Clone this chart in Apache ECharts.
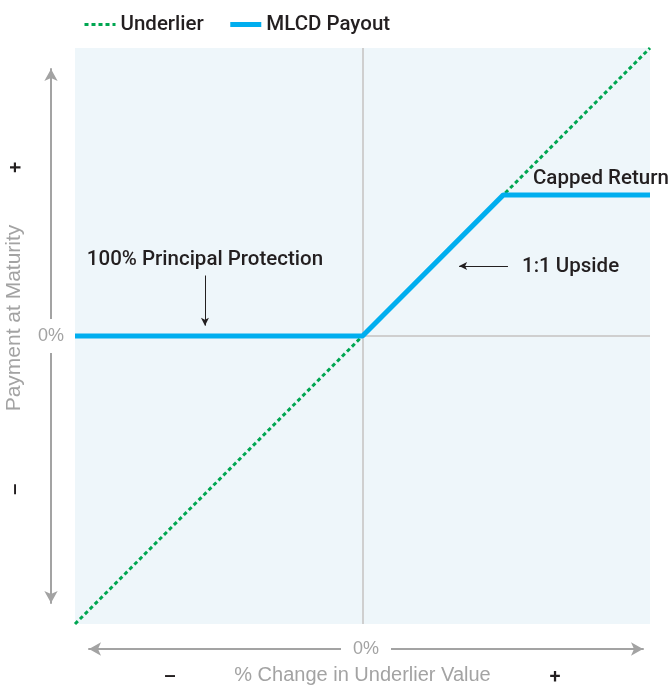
<!DOCTYPE html>
<html>
<head>
<meta charset="utf-8">
<script src="https://cdn.jsdelivr.net/npm/echarts@6/dist/echarts.min.js"></script>
<style>
html,body{margin:0;padding:0;background:#fff;}
#chart{width:671px;height:685px;}
</style>
</head>
<body>
<div id="chart"></div>
<script>
// ---- data ----
const seriesNames = ['Underlier', 'MLCD Payout'];
const underlierValues = [[-1, -1], [1, 1]];
const payoutValues = [[-1, 0], [0, 0], [0.49, 0.49], [1, 0.49]];
const axisRange = [-1, 1];
const zeroTickLabel = '0%';
const xTitle = '% Change in Underlier Value';
const yTitle = 'Payment at Maturity';
const signLabels = ['–', '+'];
const annotationTexts = ['100% Principal Protection', '1:1 Upside', 'Capped Return'];
const annotationPoints = [[-0.548, 0.265], [0.555, 0.241], [0.593, 0.546]];
const annotationArrows = [
  [[-0.548, 0.21], [-0.548, 0.036]],
  [[0.506, 0.243], [0.336, 0.243]]
];

const dark = '#231f20';
const gray = '#a3a3a3';
const font = 'Roboto, Liberation Sans, Arial, sans-serif';
const grayFont = 'Liberation Sans, Arial, sans-serif';
const darkSize = 20.5;

const chart = echarts.init(document.getElementById('chart'));
chart.setOption({
  animation: false,
  textStyle: { fontFamily: font },
  legend: {
    data: [
      { name: seriesNames[0], lineStyle: { width: 3 } },
      { name: seriesNames[1], lineStyle: { width: 5 } }
    ],
    left: 78, top: 9,
    itemWidth: 31, itemHeight: 6,
    itemGap: 24,
    itemStyle: { opacity: 0 },
    textStyle: { fontSize: darkSize, fontWeight: 500, color: dark, fontFamily: font }
  },
  grid: [
    { left: 75, right: 21, top: 48, bottom: 61, show: true, backgroundColor: '#eef6fa', borderWidth: 0, containLabel: false, outerBoundsMode: 'none' },
    { left: 51, width: 10, top: 69, bottom: 82, containLabel: false, outerBoundsMode: 'none' },
    { left: 89, right: 28, top: 639, height: 10, containLabel: false, outerBoundsMode: 'none' }
  ],
  xAxis: [
    {
      gridIndex: 0, type: 'value', min: axisRange[0], max: axisRange[1],
      axisLine: { show: false }, axisTick: { show: false }, splitLine: { show: false },
      axisLabel: {
        customValues: [-0.67, 0.67],
        formatter: v => (v < 0 ? signLabels[0] : signLabels[1]),
        color: dark, fontSize: 20, fontWeight: 500, margin: 54, verticalAlign: 'middle', align: 'center'
      },
      name: xTitle, nameLocation: 'middle', nameGap: 41, nameMoveOverlap: false,
      nameTextStyle: { color: gray, fontSize: 20, fontFamily: grayFont }
    },
    { gridIndex: 1, type: 'value', show: false, min: axisRange[0], max: axisRange[1] },
    {
      gridIndex: 2, type: 'value', min: axisRange[0], max: axisRange[1], position: 'bottom',
      axisLine: { show: true, onZero: false, symbol: ['arrow', 'arrow'], symbolSize: [10, 12], lineStyle: { color: gray, width: 2 } },
      axisTick: { show: false }, splitLine: { show: false },
      axisLabel: {
        customValues: [0], formatter: () => zeroTickLabel,
        color: gray, fontSize: 18, fontFamily: grayFont, margin: 0, verticalAlign: 'middle', align: 'center',
        backgroundColor: '#fff', padding: [2, 12]
      }
    }
  ],
  yAxis: [
    {
      gridIndex: 0, type: 'value', min: axisRange[0], max: axisRange[1],
      axisLine: { show: false }, axisTick: { show: false }, splitLine: { show: false },
      axisLabel: {
        customValues: [-0.532, 0.585],
        formatter: v => (v < 0 ? signLabels[0] : signLabels[1]),
        color: dark, fontSize: 20, fontWeight: 500, margin: 58, rotate: 90, verticalAlign: 'middle', align: 'center'
      },
      name: yTitle, nameLocation: 'middle', nameRotate: 90, nameGap: 50, nameMoveOverlap: false,
      nameTextStyle: { color: gray, fontSize: 21, fontFamily: grayFont, padding: [0, 0, 0, 36] }
    },
    {
      gridIndex: 1, type: 'value', min: axisRange[0], max: axisRange[1], position: 'left',
      axisLine: { show: true, onZero: false, symbol: ['arrow', 'arrow'], symbolSize: [10, 12], lineStyle: { color: gray, width: 2 } },
      axisTick: { show: false }, splitLine: { show: false },
      axisLabel: {
        customValues: [0], formatter: () => zeroTickLabel,
        color: gray, fontSize: 18, fontFamily: grayFont, margin: 0, verticalAlign: 'middle', align: 'center',
        backgroundColor: '#fff', padding: [8, 2]
      }
    },
    { gridIndex: 2, type: 'value', show: false, min: axisRange[0], max: axisRange[1] }
  ],
  series: [
    {
      type: 'line', xAxisIndex: 0, yAxisIndex: 0, data: [], z: 1, silent: true,
      markLine: {
        silent: true, symbol: 'none', label: { show: false }, z: 1,
        lineStyle: { color: '#cfcfcf', width: 2, type: 'solid' },
        data: [{ xAxis: 0 }, { yAxis: 0 }]
      }
    },
    {
      name: seriesNames[0], type: 'line', xAxisIndex: 0, yAxisIndex: 0,
      data: underlierValues, symbol: 'none', z: 2,
      lineStyle: { color: '#00a651', width: 3, type: [4, 3] },
      itemStyle: { color: '#00a651' }
    },
    {
      name: seriesNames[1], type: 'line', xAxisIndex: 0, yAxisIndex: 0,
      data: payoutValues, symbol: 'none', z: 3,
      lineStyle: { color: '#00aeef', width: 5 },
      itemStyle: { color: '#00aeef' }
    },
    {
      type: 'line', xAxisIndex: 0, yAxisIndex: 0, data: [], z: 4, silent: true,
      markPoint: {
        symbol: 'circle', symbolSize: 0,
        label: { show: true, fontSize: darkSize, fontWeight: 500, color: dark, fontFamily: font },
        data: annotationTexts.map((t, i) => ({
          coord: annotationPoints[i],
          label: { formatter: t, position: 'inside', align: i === 0 ? 'center' : 'left', verticalAlign: 'middle' }
        }))
      },
      markLine: {
        silent: true, symbol: ['none', 'arrow'], symbolSize: [6, 8],
        label: { show: false },
        lineStyle: { color: dark, width: 1, type: 'solid' },
        data: annotationArrows.map(a => [{ coord: a[0] }, { coord: a[1] }])
      }
    }
  ]
});
</script>
</body>
</html>
